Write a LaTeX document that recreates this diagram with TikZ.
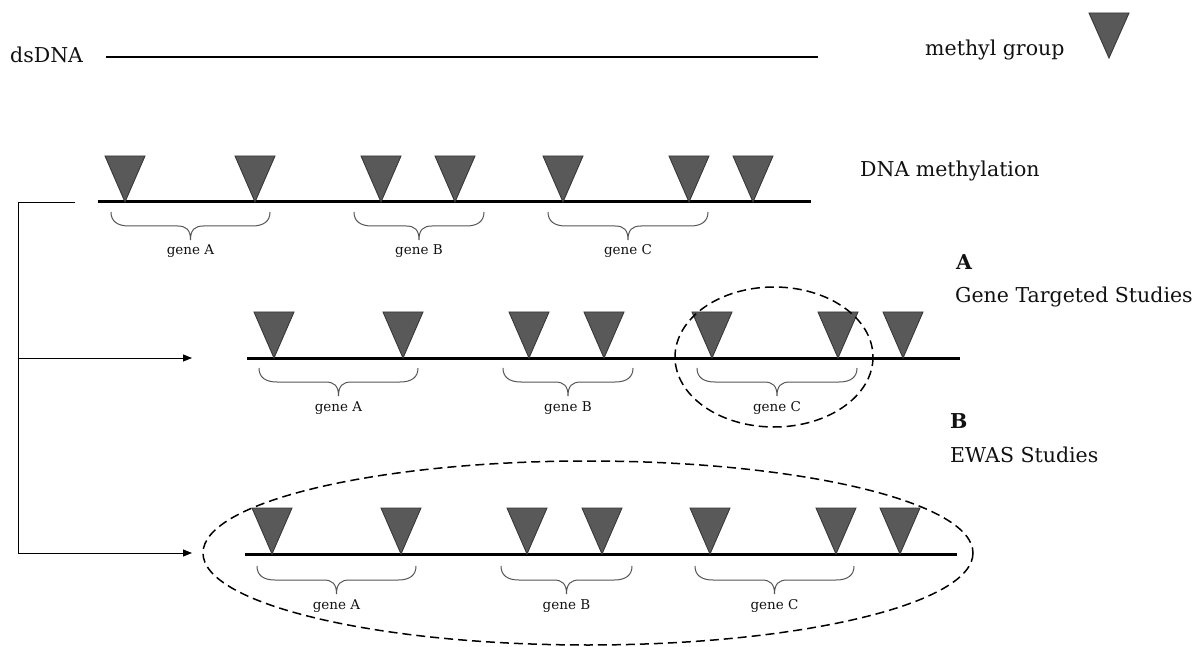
\documentclass[tikz,border=0pt]{standalone}
\usepackage{fontspec}
\setmainfont{DejaVu Serif}
\usetikzlibrary{arrows.meta}

\definecolor{methylfill}{HTML}{595959}
\definecolor{methyledge}{HTML}{383838}
\definecolor{bracegray}{HTML}{555555}
\definecolor{inkblack}{HTML}{111111}

\tikzset{
  strand/.style={line width=3pt, black},
  thinstrand/.style={line width=1.3pt, black},
  methyl/.style={fill=methylfill, draw=methyledge, line width=0.9pt, line join=miter},
  genebrace/.style={draw=bracegray, line width=1pt},
  genelabel/.style={font=\fontsize{13.5}{15}\selectfont, text=inkblack, inner sep=0pt},
  maintext/.style={font=\fontsize{20.5}{24}\selectfont, text=inkblack, inner sep=0pt, anchor=base west},
  boldtext/.style={font=\fontsize{20.5}{24}\selectfont\bfseries, text=inkblack, inner sep=0pt, anchor=base west},
  region/.style={draw=black, line width=1.5pt, dash pattern=on 9pt off 5pt},
  feed/.style={draw=black, line width=0.8pt},
  feedarrow/.style={feed, -{Triangle[length=9pt,width=7pt]}}
}

% inverted triangle marking a methylated site, apex resting on the strand
\newcommand\methylsite[3]{%
  \coordinate (#1) at (#2,#3);
  \draw[methyl] (#2-20,#3-46) -- (#2+20,#3-46) -- (#1) -- cycle;
}

% curly brace under a gene span, with its label
\newcommand\genespan[5]{%
  \pgfmathsetmacro\bxm{(#1+#2)/2}%
  \draw[genebrace] (#1,#3) .. controls (#1,#3+9) and (#1+6,#3+14) .. (#1+18,#3+14)
    -- (\bxm-13,#3+14) .. controls (\bxm-4,#3+14) and (\bxm,#3+18) .. (\bxm,#3+28)
    .. controls (\bxm,#3+18) and (\bxm+4,#3+14) .. (\bxm+13,#3+14)
    -- (#2-18,#3+14) .. controls (#2-6,#3+14) and (#2,#3+9) .. (#2,#3);
  \node[genelabel, anchor=base] (#4) at (\bxm,#3+43) {#5};
}

\begin{document}
\begin{tikzpicture}[x=1pt, y=-1pt]
  \useasboundingbox (0,0) rectangle (1203,647);

  % legend
  \node[maintext] (dsdna) at (10,63) {dsDNA};
  \coordinate (ds0) at (106,57);
  \coordinate (ds1) at (818,57);
  \draw[thinstrand] (ds0) -- (ds1);
  \node[maintext] (methyllabel) at (925,56) {methyl group};
  \coordinate (legendtip) at (1109,58);
  \draw[methyl] (1089,13) -- (1129,13) -- (legendtip) -- cycle;

  % row 1: methylated strand
  \coordinate (r1a) at (98,202);
  \coordinate (r1b) at (811,202);
  \draw[strand] (r1a) -- (r1b);
  \methylsite{r1m1}{125}{202}
  \methylsite{r1m2}{255}{202}
  \methylsite{r1m3}{381}{202}
  \methylsite{r1m4}{455}{202}
  \methylsite{r1m5}{563}{202}
  \methylsite{r1m6}{689}{202}
  \methylsite{r1m7}{753}{202}
  \genespan{111}{270}{212}{r1ga}{gene A}
  \genespan{354}{484}{212}{r1gb}{gene B}
  \genespan{548}{708}{212}{r1gc}{gene C}
  \node[maintext] (methylation) at (860,177) {DNA methylation};

  % row 2: gene targeted
  \coordinate (r2a) at (247,358);
  \coordinate (r2b) at (960,358);
  \draw[strand] (r2a) -- (r2b);
  \methylsite{r2m1}{274}{358}
  \methylsite{r2m2}{403}{358}
  \methylsite{r2m3}{529}{358}
  \methylsite{r2m4}{604}{358}
  \methylsite{r2m5}{712}{358}
  \methylsite{r2m6}{838}{358}
  \methylsite{r2m7}{903}{358}
  \genespan{259}{418}{368}{r2ga}{gene A}
  \genespan{503}{633}{368}{r2gb}{gene B}
  \genespan{697}{857}{368}{r2gc}{gene C}
  \coordinate (targetcentre) at (774,357);
  \draw[region] (targetcentre) ellipse [x radius=99, y radius=70];
  \node[boldtext] (labelA) at (956,270) {A};
  \node[maintext] (targeted) at (955,302) {Gene Targeted Studies};

  % row 3: epigenome-wide
  \coordinate (r3a) at (245,554);
  \coordinate (r3b) at (957,554);
  \draw[strand] (r3a) -- (r3b);
  \methylsite{r3m1}{272}{554}
  \methylsite{r3m2}{401}{554}
  \methylsite{r3m3}{527}{554}
  \methylsite{r3m4}{602}{554}
  \methylsite{r3m5}{710}{554}
  \methylsite{r3m6}{836}{554}
  \methylsite{r3m7}{900}{554}
  \genespan{257}{416}{566}{r3ga}{gene A}
  \genespan{501}{632}{566}{r3gb}{gene B}
  \genespan{695}{854}{566}{r3gc}{gene C}
  \coordinate (ewascentre) at (588,553);
  \draw[region] (ewascentre) ellipse [x radius=385, y radius=92];
  \node[boldtext] (labelB) at (950,428) {B};
  \node[maintext] (ewas) at (950,462) {EWAS Studies};

  % feed lines from the methylated strand to the two study types
  \coordinate (feedstart) at (75,202);
  \coordinate (trunktop) at (18,202);
  \coordinate (trunkmid) at (18,358);
  \coordinate (trunkbot) at (18,553);
  \coordinate (tipA) at (192,358);
  \coordinate (tipB) at (192,553);
  \draw[feed] (feedstart) -- (trunktop) -- (trunkbot);
  \draw[feedarrow] (trunkmid) -- (tipA);
  \draw[feedarrow] (trunkbot) -- (tipB);
\end{tikzpicture}
\end{document}
